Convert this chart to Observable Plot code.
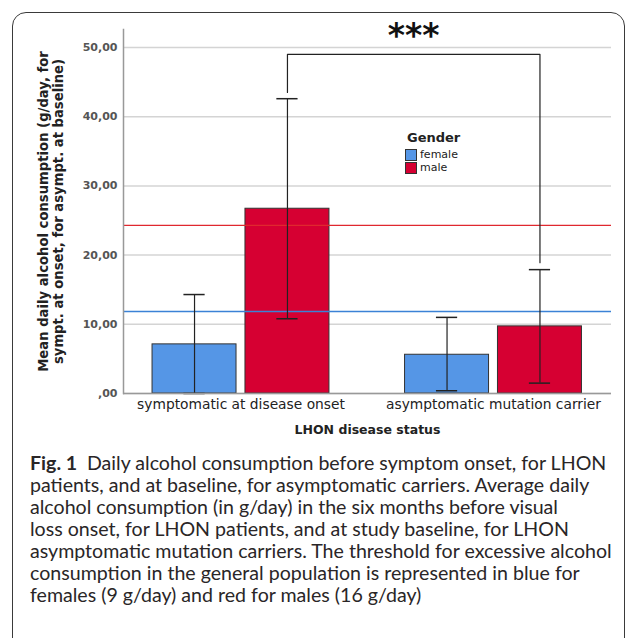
<!DOCTYPE html>
<html>
<head>
<meta charset="utf-8">
<script src="https://cdn.jsdelivr.net/npm/d3@7"></script>
<script src="https://cdn.jsdelivr.net/npm/@observablehq/plot@0.6"></script>
<style>
  html, body { margin: 0; padding: 0; background: #fff; }
  #wrap { position: relative; width: 630px; height: 638px; overflow: hidden; background: #fff; }
  #box { position: absolute; left: 12px; top: 12px; width: 613px; height: 700px;
         border: 1.5px solid #3a3a3a; border-radius: 14px; box-sizing: border-box; }
  #chart { position: absolute; left: 0; top: 0; }
  #legend { position: absolute; left: 405px; top: 129px; font-family: "DejaVu Sans", sans-serif; color: #222; }
  #legend .title { font-weight: bold; font-size: 13px; margin-left: 2px; line-height: 17px; margin-bottom: 2px; }
  #legend .row { display: flex; align-items: center; font-size: 11px; line-height: 13px; height: 13px; }
  #legend .sw { width: 10px; height: 10px; border: 1px solid #333; margin-right: 3px; }
  #caption { position: absolute; left: 30px; top: 452px; font-family: Lato, "Open Sans", sans-serif;
             color: #2a2627; line-height: 22px; white-space: nowrap; }
  #caption b { font-weight: bold; }
</style>
</head>
<body>
<div id="wrap">
  <div id="box"></div>
  <div id="chart"></div>
  <div id="legend"></div>
  <div id="caption"></div>
</div>
<script>
// ---- data ----
const groups = ["symptomatic at disease onset", "asymptomatic mutation carrier"];
const genders = ["female", "male"];
const genderColors = ["#5596e6", "#d60032"];
const meanFemale = [7.1, 5.6];
const meanMale = [26.7, 9.7];
const lowFemale = [0.0, 0.4];
const highFemale = [14.3, 11.0];
const lowMale = [10.8, 1.5];
const highMale = [42.6, 17.9];
const thresholdValues = [11.85, 24.3];          // drawn reference lines (female, male)
const thresholdColors = ["#3b82d6", "#e0282f"];
const bracketY = [43.5, 49.0, 18.9];             // left leg top, bar, right leg bottom
const sigLabel = "***";
const yTicks = [0, 10, 20, 30, 40, 50];
const xTitle = "LHON disease status";
const yTitle = ["Mean daily alcohol consumption (g/day, for", "sympt. at onset, for asympt. at baseline)"];
const legendTitle = "Gender";
const captionLines = [
  "Daily alcohol consumption before symptom onset, for LHON",
  "patients, and at baseline, for asymptomatic carriers. Average daily",
  "alcohol consumption (in g/day) in the six months before visual",
  "loss onset, for LHON patients, and at study baseline, for LHON",
  "asymptomatic mutation carriers. The threshold for excessive alcohol",
  "consumption in the general population is represented in blue for",
  "females (9 g/day) and red for males (16 g/day)"
];

// ---- layout (not data) ----
const off = 0.184, hw = 0.1663, cap = 0.042;

const rows = [];
groups.forEach((g, gi) => {
  rows.push({gi, gender: "female", mean: meanFemale[gi], lo: lowFemale[gi], hi: highFemale[gi]});
  rows.push({gi, gender: "male", mean: meanMale[gi], lo: lowMale[gi], hi: highMale[gi]});
});
const cx = d => d.gi + (d.gender === "female" ? -off : off);
const colorOf = d => genderColors[genders.indexOf(d.gender)];
const thresholds = thresholdValues.map((v, i) => ({v, c: thresholdColors[i]}));
const maleX = [0 + off, 1 + off];
const bracket = [
  {x: maleX[0], y: bracketY[0]},
  {x: maleX[0], y: bracketY[1]},
  {x: maleX[1], y: bracketY[1]},
  {x: maleX[1], y: bracketY[2]}
];
const fmt = d => d === 0 ? ",00" : d.toFixed(2).replace(".", ",");

const chart = Plot.plot({
  width: 630, height: 450,
  marginLeft: 123, marginRight: 19, marginTop: 29, marginBottom: 57,
  x: {type: "linear", domain: [-0.4653, 1.4673], axis: null},
  y: {domain: [0, 52.6], axis: null},
  style: {fontFamily: "DejaVu Sans, sans-serif", background: "transparent", overflow: "visible"},
  marks: [
    Plot.gridY(yTicks, {stroke: "#d4d4d4", strokeOpacity: 1, strokeWidth: 1.5}),
    Plot.rectY(rows, {x1: d => cx(d) - hw, x2: d => cx(d) + hw, y1: 0, y2: "mean",
                      fill: colorOf, stroke: "#333", strokeWidth: 1}),
    Plot.ruleY(thresholds, {y: "v", stroke: "c", strokeWidth: 1.3}),
    Plot.ruleX(rows, {x: cx, y1: "lo", y2: "hi", stroke: "#222", strokeWidth: 1.2}),
    Plot.ruleY(rows, {y: "hi", x1: d => cx(d) - cap, x2: d => cx(d) + cap, stroke: "#222", strokeWidth: 1.5}),
    Plot.ruleY(rows, {y: "lo", x1: d => cx(d) - cap, x2: d => cx(d) + cap, stroke: "#222", strokeWidth: 1.5}),
    Plot.line(bracket, {x: "x", y: "y", stroke: "#222", strokeWidth: 1.2}),
    Plot.text([sigLabel], {x: (maleX[0] + maleX[1]) / 2, frameAnchor: "top", lineAnchor: "top", dy: -6,
                           fontSize: 33, fontWeight: "bold", fill: "#111", letterSpacing: 6}),
    Plot.ruleY([0], {stroke: "#999", strokeWidth: 1.5}),
    Plot.frame({anchor: "left", stroke: "#999", strokeWidth: 1.5}),
    Plot.axisY(yTicks, {tickSize: 0, tickPadding: 6, tickFormat: fmt, fontSize: 11,
                        fontWeight: "bold", fill: "#555", label: null}),
    Plot.axisX([0, 1], {tickSize: 0, tickPadding: 6, tickFormat: i => groups[i], fontSize: 13.8,
                        fill: "#222", label: null}),
    Plot.text([xTitle], {frameAnchor: "bottom", dy: 40, fontSize: 12.5, fontWeight: "bold", fill: "#222"}),
    Plot.text([yTitle.join("\n")], {frameAnchor: "left", textAnchor: "middle", lineAnchor: "middle",
                                    rotate: -90, dx: -73, fontSize: 13.2,
                                    fontWeight: "bold", fill: "#222", lineHeight: 1.15})
  ]
});
document.getElementById("chart").appendChild(chart);

// legend
const lg = document.getElementById("legend");
const t = document.createElement("div"); t.className = "title"; t.textContent = legendTitle; lg.appendChild(t);
genders.forEach((g, i) => {
  const r = document.createElement("div"); r.className = "row";
  const s = document.createElement("div"); s.className = "sw"; s.style.background = genderColors[i];
  r.appendChild(s); r.appendChild(document.createTextNode(g)); lg.appendChild(r);
});

// caption
const cap_ = document.getElementById("caption");
captionLines.forEach((line, i) => {
  const d = document.createElement("div");
  if (i === 0) { const b = document.createElement("b"); b.textContent = "Fig. 1"; d.appendChild(b);
                 d.appendChild(document.createTextNode("\u2002" + line)); }
  else d.textContent = line;
  cap_.appendChild(d);
});
// fit the font size so the longest line spans the same width as in the reference
let fs = 18; cap_.style.fontSize = fs + "px";
const probe = cap_.children[4];
const w = probe.getBoundingClientRect().width;
fs = fs * 582 / w; cap_.style.fontSize = fs.toFixed(2) + "px";
</script>
</body>
</html>
